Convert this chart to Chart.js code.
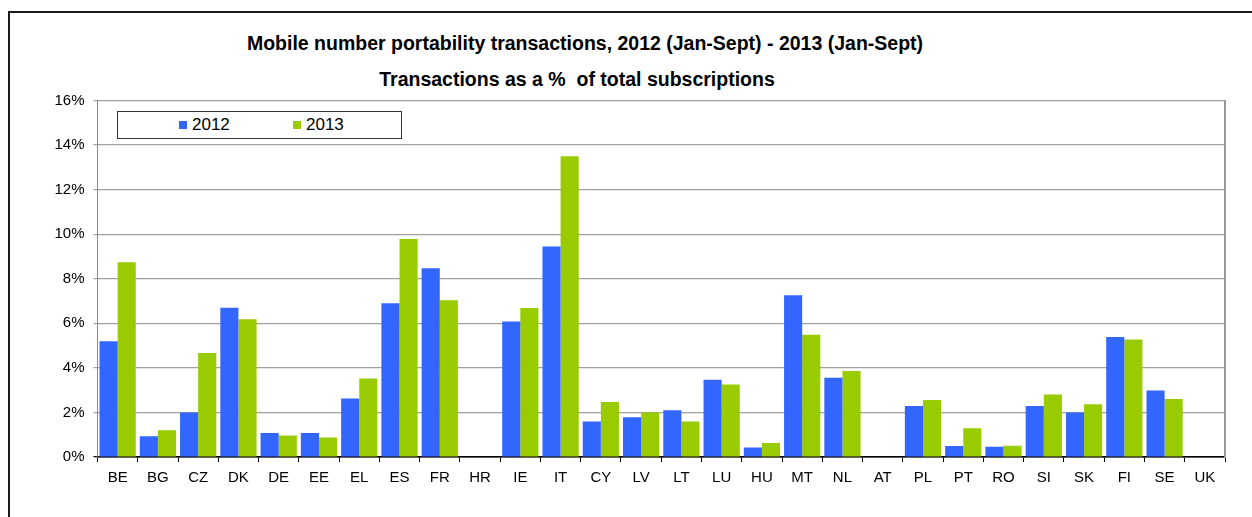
<!DOCTYPE html>
<html>
<head>
<meta charset="utf-8">
<script src="https://cdn.jsdelivr.net/npm/chart.js@4.4.1/dist/chart.umd.min.js"></script>
<style>
  body { margin: 0; background: #fff; font-family: "Liberation Sans", Arial, sans-serif; }
  #wrap { position: relative; width: 1252px; height: 517px; overflow: hidden; }
  #frame { position: absolute; left: 8px; top: 11px; right: -10px; bottom: -10px;
           border-left: 2px solid #1a1a1a; border-top: 2px solid #1a1a1a; }
  .title { position: absolute; font-weight: bold; font-size: 19.5px; color: #000;
           white-space: nowrap; transform: translate(-50%, -50%); }
  #chart { position: absolute; left: 0; top: 0; }
  #legend { position: absolute; left: 117px; top: 111px; width: 283px; height: 26px;
            border: 1.5px solid #333; background: #fff; font-size: 17px; color: #000; }
  .item { position: absolute; top: 0; height: 26px; line-height: 26px; white-space: nowrap; }
  .swatch { display: inline-block; width: 8px; height: 8px; margin-right: 5px; vertical-align: 1px; }
</style>
</head>
<body>
<div id="wrap">
  <div id="frame"></div>
  <div class="title" style="left:585px; top:43px;">Mobile number portability transactions, 2012 (Jan-Sept) - 2013 (Jan-Sept)</div>
  <div class="title" style="left:577px; top:79px;">Transactions as a %&nbsp; of total subscriptions</div>
  <canvas id="chart" width="1252" height="517"></canvas>
  <div id="legend"></div>
</div>
<script>
// ------------------------------
// data
// ------------------------------
const countries = ["BE", "BG", "CZ", "DK", "DE", "EE", "EL", "ES", "FR", "HR",
  "IE", "IT", "CY", "LV", "LT", "LU", "HU", "MT", "NL", "AT",
  "PL", "PT", "RO", "SI", "SK", "FI", "SE", "UK"];
const values2012 = [5.2, 0.93, 2.0, 6.7, 1.08, 1.08, 2.62, 6.9, 8.47, null,
  6.08, 9.45, 1.59, 1.78, 2.1, 3.47, 0.43, 7.26, 3.56, null,
  2.29, 0.49, 0.46, 2.29, 2.0, 5.39, 2.98, null];
const values2013 = [8.74, 1.2, 4.67, 6.18, 0.96, 0.88, 3.52, 9.78, 7.04, null,
  6.69, 13.5, 2.47, 2.0, 1.59, 3.25, 0.63, 5.49, 3.86, null,
  2.56, 1.29, 0.51, 2.8, 2.37, 5.27, 2.6, null];
const seriesNames = ["2012", "2013"];
const seriesColors = ["#3366ff", "#99cc00"];
const yTicks = [0, 2, 4, 6, 8, 10, 12, 14, 16];

// ------------------------------
// legend (html, sits inside plot area)
// ------------------------------
const legend = document.getElementById("legend");
const legendLeft = [61, 175];
seriesNames.forEach((name, i) => {
  const d = document.createElement("div");
  d.className = "item";
  d.style.left = legendLeft[i] + "px";
  d.innerHTML = `<span class="swatch" style="background:${seriesColors[i]}"></span>${name}`;
  legend.appendChild(d);
});

// ------------------------------
// chart
// ------------------------------
const font = { family: "'Liberation Sans', Arial, sans-serif", size: 15 };

new Chart(document.getElementById("chart"), {
  type: "bar",
  data: {
    labels: countries,
    datasets: [
      { label: seriesNames[0], data: values2012, backgroundColor: seriesColors[0] },
      { label: seriesNames[1], data: values2013, backgroundColor: seriesColors[1] }
    ]
  },
  options: {
    responsive: false,
    animation: false,
    layout: { padding: { top: 100.5, right: 27, bottom: 0, left: 0 } },
    datasets: { bar: { categoryPercentage: 0.9, barPercentage: 1.0 } },
    plugins: { legend: { display: false }, title: { display: false }, tooltip: { enabled: false } },
    scales: {
      x: {
        afterFit: s => { s.height = 60; },
        grid: { drawOnChartArea: false, offset: true, tickLength: 5, color: "#000" },
        border: { color: "#000", width: 1.5 },
        ticks: { color: "#000", font, padding: 7, maxRotation: 0, autoSkip: false }
      },
      y: {
        min: 0,
        max: 16,
        afterFit: s => { s.width = 97.5; },
        afterBuildTicks: s => { s.ticks = yTicks.map(v => ({ value: v })); },
        grid: {
          color: c => (c.tick && c.tick.value === 0 ? "#000" : "#a0a0a0"),
          tickLength: 4,
          lineWidth: 1.2
        },
        border: { color: "#8a8a8a", width: 1 },
        ticks: { color: "#000", font, padding: 9, callback: v => v + "%" }
      },
      y2: {
        position: "right",
        min: 0,
        max: 1,
        afterFit: s => { s.width = 0; },
        grid: { drawOnChartArea: false, drawTicks: false },
        border: { color: "#999", width: 2 },
        ticks: { display: false }
      }
    }
  }
});
</script>
</body>
</html>
